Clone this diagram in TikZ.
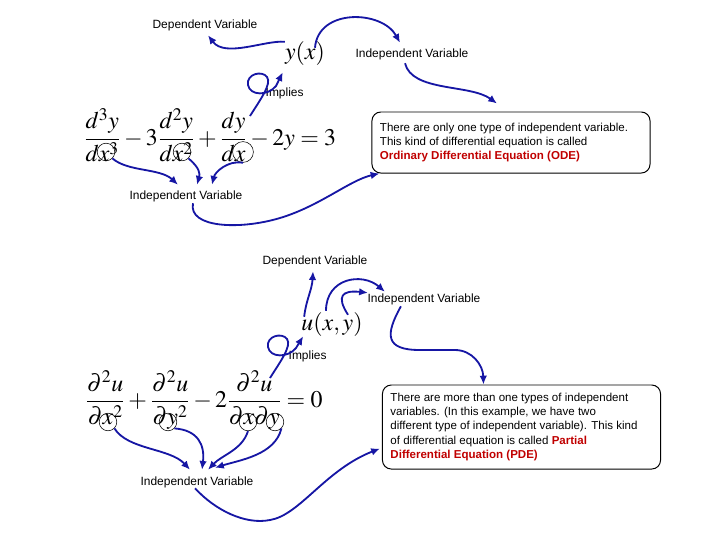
\documentclass[tikz,border=0pt]{standalone}
\usepackage{mathptmx}
\usepackage[no-math]{fontspec}
\setmainfont{Liberation Sans}
\usetikzlibrary{positioning,arrows.meta,calc}
\definecolor{InkBlue}{HTML}{1616A4}
\definecolor{NoteRed}{HTML}{C00000}
\tikzset{
  every node/.style = {font=\fontsize{8.5}{10.2}\selectfont},
  vlabel/.style     = {inner sep=1pt},
  eqn/.style        = {inner sep=0pt, font=\fontsize{17}{20}\selectfont},
  ring/.style       = {circle, draw=black, line width=0.4pt,
                       minimum size=4.4mm, inner sep=0pt},
  conn/.style       = {-{Latex[length=2.2mm,width=1.9mm]}, line width=1.3pt,
                       draw=InkBlue, fill=none},
  notebox/.style    = {draw=black, line width=0.7pt, rounded corners=2.2mm,
                       align=flush left, inner xsep=0.2cm, text width=6.55cm,
                       font=\fontsize{8.2}{10.3}\selectfont},
}

\begin{document}
\begin{tikzpicture}[x=0.025cm, y=-0.025cm]
\useasboundingbox (0,0) rectangle (720,540);

% =========================================================================
% Ordinary case (top)
% =========================================================================
\node[vlabel] (dep1) at (205,25) {Dependent Variable};
\node[eqn]    (yx)   at (305,54) {$y(x)$};
\node[vlabel] (ind1) at (412,54) {Independent Variable};
\node[vlabel, anchor=west] (imp1) at (264,93) {Implies};

\node[eqn] (ode) at (210,135)
  {$\displaystyle \frac{d^3y}{dx^3}-3\frac{d^2y}{dx^2}+\frac{dy}{dx}-2y=3$};
\node[ring] (cx1) at (106,152) {};
\node[ring] (cx2) at (182,152) {};
\node[ring, minimum size=5.2mm] (cx3) at (243,152) {};

\node[vlabel] (ind2) at (186,196) {Independent Variable};

\node[notebox, minimum height=1.525cm] (odebox) at (511,142.5)
  {There are only one type of independent variable.\\
   This kind of differential equation is called\\
   \textcolor{NoteRed}{\textbf{Ordinary Differential Equation (ODE)}}};

\coordinate (imp1s) at (250,116);

% --- connectors ----------------------------------------------------------
\draw[conn] (yx.north west) .. controls (265,40) and (225,58)
  .. ($(dep1.south)+(3,3)$);
\draw[conn] ($(yx.north)+(10,6)$) .. controls (318,8) and (382,10)
  .. ($(ind1.north)+(-12,-4)$);
\draw[conn] ($(ind1.south)+(-7,2)$) .. controls (412,92) and (470,84)
  .. ($(odebox.north)+(-14,-8)$);
\draw[conn] (imp1s) .. controls (260,100) and (272,84) .. (267,77)
  .. controls (262,70) and (246,74) .. (248,85)
  .. controls (250,96) and (268,96) .. (276,86)
  -- ($(yx.south west)+(-2,6)$);

\draw[conn] (cx1.south east) .. controls (128,172) and (160,168)
  .. ($(ind2.north)+(-8,-4)$);
\draw[conn] (cx2.south east) .. controls (200,168) and (200,174)
  .. ($(ind2.north)+(11,-4)$);
\draw[conn] (cx3.south) .. controls (228,160) and (215,172)
  .. ($(ind2.north)+(26,-4)$);
\draw[conn] ($(ind2.south)+(7,0)$) .. controls (188,228) and (240,230) .. (280,218)
  .. controls (320,206) and (350,180) .. ($(odebox.south west)+(8,0)$);

% =========================================================================
% Partial case (bottom)
% =========================================================================
\node[vlabel] (dep2) at (315,261) {Dependent Variable};
\node[eqn]    (uxy)  at (332,325) {$u(x,y)$};
\node[vlabel] (ind3) at (424,299) {Independent Variable};
\node[vlabel, anchor=west] (imp2) at (287,356) {Implies};

\node[eqn] (pde) at (204,400)
  {$\displaystyle \frac{\partial^2u}{\partial x^2}+\frac{\partial^2u}{\partial y^2}
   -2\frac{\partial^2u}{\partial x\partial y}=0$};
\node[ring] (dx1) at (108,422) {};
\node[ring] (dy1) at (168,422) {};
\node[ring] (dx2) at (248,422) {};
\node[ring] (dy2) at (275,422) {};

\node[vlabel] (ind4) at (197,482) {Independent Variable};

\node[notebox, minimum height=2.1cm] (pdebox) at (521.5,427)
  {There are more than one types of independent\\
   variables. (In this example, we have two\\
   different type of independent variable). This kind\\
   of differential equation is called \textcolor{NoteRed}{\textbf{Partial}}\\
   \textcolor{NoteRed}{\textbf{Differential Equation (PDE)}}};

\coordinate (imp2s) at (270,378);

% --- connectors ----------------------------------------------------------
\draw[conn] ($(uxy.north west)+(3,4)$) .. controls (306,300) and (312,290)
  .. ($(dep2.south)+(-2,3)$);
\draw[conn] ($(uxy.north)+(-6,-2)$) .. controls (326,278) and (362,272)
  .. ($(ind3.north west)+(19,0)$);
\draw[conn] ($(uxy.north)+(16,2)$) .. controls (336,296) and (342,290)
  .. ($(ind3.north west)+(2,1)$);
\draw[conn] ($(ind3.south west)+(35,0)$) .. controls (385,335) and (385,350) .. (420,350)
  -- (455,350) .. controls (472,350) and (483,365) .. ($(pdebox.north)+(-38,0)$);
\draw[conn] (imp2s) .. controls (280,362) and (292,346) .. (287,339)
  .. controls (282,332) and (266,336) .. (268,347)
  .. controls (270,358) and (288,358) .. (296,348)
  -- ($(uxy.south west)+(2,-1)$);

\draw[conn] (dx1.south east) .. controls (128,450) and (170,448)
  .. ($(ind4.north)+(-7,-5)$);
\draw[conn] (dy1.south east) .. controls (198,430) and (205,445)
  .. ($(ind4.north)+(5,-5)$);
\draw[conn] (dx2.south) .. controls (242,450) and (222,455)
  .. ($(ind4.north)+(11,-5)$);
\draw[conn] (dy2.south east) .. controls (275,455) and (240,460)
  .. ($(ind4.north)+(18,-7)$);
\draw[conn] ($(ind4.south)+(-2,-1)$) .. controls (215,510) and (245,525) .. (270,520)
  .. controls (300,515) and (325,470) .. ($(pdebox.south west)+(-2,-21)$);

\end{tikzpicture}
\end{document}
